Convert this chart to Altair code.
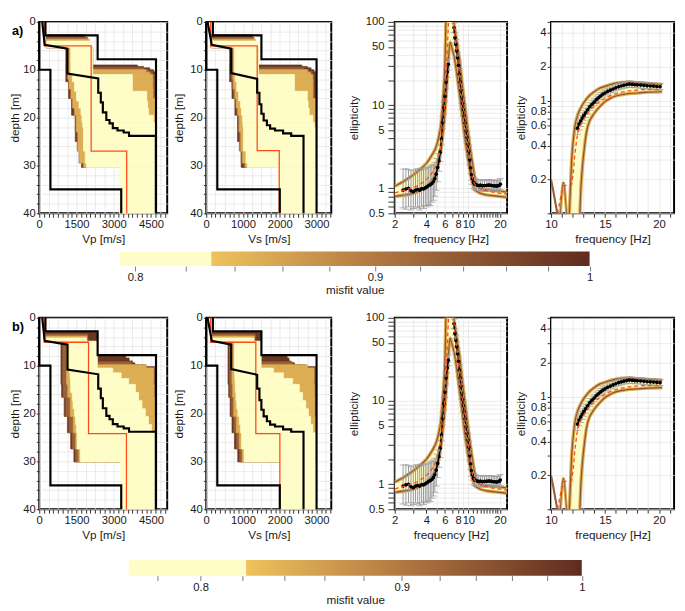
import json
import math
import altair as alt
import pandas as pd

FONT = "Liberation Sans"
RED = "#ff4a1c"

MISFIT_STOPS = [0.76, 0.83, 0.8301, 0.9, 1.0]
MISFIT_COLORS = ["#fefdc8", "#fefdc8", "#efc35c", "#b27842", "#5f2b1f"]
CSCALE = alt.Scale(domain=MISFIT_STOPS, range=MISFIT_COLORS, interpolate="rgb", clamp=True)

DEPTH_DOMAIN = [0, 40]
VP_DOMAIN = [0, 5150]
VS_DOMAIN = [0, 3400]

VP_UPPER = [(250, 0), (250, 2.8), (2350, 2.8), (2350, 7.8), (4700, 7.8), (4700, 40)]
VP_LOWER = [(0, 0), (0, 10), (450, 10), (450, 35), (3300, 35), (3300, 40)]
VS_UPPER = [(180, 0), (180, 2.8), (1500, 2.8), (1500, 7.8), (3000, 7.8), (3000, 40)]
VS_LOWER = [(0, 0), (0, 10), (300, 10), (300, 35), (2000, 35), (2000, 40)]
VP_TRUE = [(120, 0), (220, 4.8), (1135, 5.6), (1135, 10.8), (2374, 11.8), (2374, 14.8), (2478, 14.8),
           (2478, 16.8), (2560, 16.8), (2560, 18.9), (2700, 18.9), (2700, 20.5), (2830, 20.5), (2830, 21.2),
           (2961, 21.2), (2961, 22.2), (3150, 22.2), (3150, 22.7), (3400, 22.7), (3400, 23.1), (3614, 23.1),
           (3614, 23.8), (4696, 23.8), (4696, 40)]
VS_TRUE = [(36, 0), (150, 4.8), (680, 5.6), (680, 10.7), (1385, 11.9), (1385, 14.8), (1446, 14.8),
           (1446, 17.2), (1499, 17.2), (1499, 19.2), (1561, 19.2), (1561, 20.6), (1649, 20.6), (1649, 21.6),
           (1737, 21.6), (1737, 22.3), (1870, 22.3), (1870, 22.7), (2090, 22.7), (2090, 23.3), (2310, 23.3),
           (2310, 23.8), (2645, 23.8), (2645, 40)]
VP_RED_A = [(200, 0), (200, 5.0), (2090, 5.0), (2090, 27.0), (3520, 27.0), (3520, 40)]
VS_RED_A = [(120, 0), (120, 5.0), (1385, 5.0), (1385, 26.9), (1985, 26.9), (1985, 40)]
VP_RED_B = [(200, 0), (200, 5.1), (1983, 5.1), (1983, 24.2), (3510, 24.2), (3510, 40)]
VS_RED_B = [(120, 0), (120, 5.1), (1348, 5.1), (1348, 24.2), (2002, 24.2), (2002, 40)]

# layers covered by the tested models: (misfit, depth_top, depth_bottom, v_min, v_max), worst drawn first
RECT_VP_A = [
    (0.985, 2.7, 5.4, 280, 1850), (0.985, 5.4, 9.0, 1070, 2150), (0.985, 9.0, 9.3, 1070, 3950),
    (0.985, 9.3, 9.6, 1070, 4200), (0.985, 9.6, 10.0, 1070, 4450), (0.985, 10.0, 10.4, 1070, 4600),
    (0.985, 10.4, 12.5, 1070, 4680), (0.985, 12.5, 16, 1180, 4680), (0.985, 16, 19.5, 1300, 4680),
    (0.985, 19.5, 25, 1450, 4680), (0.985, 25, 30.4, 1700, 4680),
    (0.93, 3.2, 5.4, 280, 1950), (0.93, 5.4, 9.6, 1130, 2150), (0.93, 9.6, 10.0, 1130, 4200),
    (0.93, 10.0, 10.4, 1130, 4400), (0.93, 10.4, 11.0, 1130, 4550), (0.93, 11.0, 12.0, 1130, 4650),
    (0.93, 12.0, 14.0, 1180, 4650), (0.93, 14.0, 16.0, 1250, 4655), (0.93, 16.0, 18.0, 1330, 4660),
    (0.93, 18.0, 19.5, 1400, 4660), (0.93, 19.5, 23.0, 1450, 4680), (0.93, 23.0, 27.0, 1530, 4680),
    (0.93, 27.0, 29.5, 1600, 4680), (0.93, 29.5, 30.4, 1760, 4680),
    (0.85, 3.6, 5.4, 290, 2030), (0.85, 5.4, 10.0, 1160, 2150), (0.85, 10.0, 10.5, 1160, 4300),
    (0.85, 10.5, 11.0, 1160, 4450), (0.85, 11.0, 12.0, 1160, 4560), (0.85, 12.0, 14.0, 1200, 4570),
    (0.85, 14.0, 16.0, 1280, 4580), (0.85, 16.0, 18.0, 1350, 4680), (0.85, 18.0, 19.5, 1430, 4680),
    (0.85, 19.5, 23.0, 1500, 4680), (0.85, 23.0, 27.0, 1560, 4680), (0.85, 27.0, 29.5, 1620, 4680),
    (0.85, 29.5, 30.4, 1790, 4680),
    (0.80, 4.0, 5.4, 300, 2110), (0.80, 5.4, 11.0, 1270, 2150), (0.80, 11.0, 12.5, 1330, 3750),
    (0.80, 12.5, 14.5, 1420, 3750), (0.80, 14.5, 16.5, 1500, 4330), (0.80, 16.5, 18.0, 1600, 4360),
    (0.80, 18.0, 19.5, 1680, 4400), (0.80, 19.5, 21.0, 1720, 4600), (0.80, 21.0, 22.0, 1750, 4650),
    (0.80, 22.0, 27.0, 1780, 4680), (0.80, 27.0, 29.5, 1850, 4680), (0.80, 29.5, 30.4, 1900, 4680),
    (0.80, 30.4, 40.0, 3220, 4680),
]
RECT_VS_A = [
    (0.985, 2.7, 5.4, 130, 1250), (0.985, 5.4, 9.0, 636, 1420), (0.985, 9.0, 9.3, 636, 2600),
    (0.985, 9.3, 9.6, 636, 2750), (0.985, 9.6, 10.0, 636, 2850), (0.985, 10.0, 10.4, 636, 2930),
    (0.985, 10.4, 12.5, 636, 2972), (0.985, 12.5, 16, 700, 2972), (0.985, 16, 19.5, 780, 2972),
    (0.985, 19.5, 25, 850, 2972), (0.985, 25, 30.4, 950, 2972),
    (0.93, 3.2, 5.4, 130, 1300), (0.93, 5.4, 9.6, 680, 1420), (0.93, 9.6, 10.0, 680, 2650),
    (0.93, 10.0, 10.4, 680, 2780), (0.93, 10.4, 11.0, 680, 2880), (0.93, 11.0, 12.0, 680, 2930),
    (0.93, 12.0, 14.0, 700, 2930), (0.93, 14.0, 16.0, 740, 2935), (0.93, 16.0, 18.0, 790, 2940),
    (0.93, 18.0, 19.5, 830, 2940), (0.93, 19.5, 23.0, 856, 2972), (0.93, 23.0, 27.0, 900, 2972),
    (0.93, 27.0, 29.5, 950, 2972), (0.93, 29.5, 30.4, 1030, 2972),
    (0.85, 3.6, 5.4, 135, 1340), (0.85, 5.4, 10.0, 724, 1420), (0.85, 10.0, 10.5, 724, 2750),
    (0.85, 10.5, 11.0, 724, 2830), (0.85, 11.0, 12.0, 724, 2890), (0.85, 12.0, 14.0, 740, 2900),
    (0.85, 14.0, 16.0, 780, 2900), (0.85, 16.0, 18.0, 820, 2972), (0.85, 18.0, 19.5, 860, 2972),
    (0.85, 19.5, 23.0, 900, 2972), (0.85, 23.0, 27.0, 940, 2972), (0.85, 27.0, 29.5, 990, 2972),
    (0.85, 29.5, 30.4, 1060, 2972),
    (0.80, 4.0, 5.4, 140, 1420), (0.80, 5.4, 11.0, 770, 1420), (0.80, 11.0, 12.5, 790, 2400),
    (0.80, 12.5, 14.5, 830, 2400), (0.80, 14.5, 16.5, 880, 2750), (0.80, 16.5, 18.0, 930, 2770),
    (0.80, 18.0, 19.5, 960, 2800), (0.80, 19.5, 21.0, 990, 2900), (0.80, 21.0, 22.0, 1000, 2940),
    (0.80, 22.0, 27.0, 1010, 2972), (0.80, 27.0, 29.5, 1080, 2972), (0.80, 29.5, 30.4, 1120, 2972),
    (0.80, 30.4, 40.0, 1960, 2972),
]
RECT_VP_B = [
    (0.985, 2.9, 4.9, 248, 2335), (0.985, 4.9, 7.8, 874, 2335), (0.985, 7.8, 8.4, 874, 3483),
    (0.985, 8.4, 9.0, 874, 3620), (0.985, 9.0, 9.4, 874, 3750), (0.985, 9.4, 9.8, 874, 3850),
    (0.985, 9.8, 10.2, 874, 4300), (0.985, 10.2, 13.9, 874, 4656), (0.985, 13.9, 16.6, 900, 4656),
    (0.985, 16.6, 20.6, 1004, 4656), (0.985, 20.6, 24.0, 1135, 4656), (0.985, 24.0, 27.4, 1265, 4656),
    (0.985, 27.4, 30.1, 1395, 4656),
    (0.93, 3.4, 4.9, 248, 1950), (0.93, 4.9, 9.2, 940, 2335), (0.93, 9.2, 9.8, 940, 3700),
    (0.93, 9.8, 10.3, 940, 4000), (0.93, 10.3, 13.9, 940, 4656), (0.93, 13.9, 16.6, 960, 4656),
    (0.93, 16.6, 20.6, 1070, 4656), (0.93, 20.6, 24.0, 1200, 4656), (0.93, 24.0, 27.4, 1330, 4656),
    (0.93, 27.4, 30.1, 1460, 4656),
    (0.85, 3.8, 4.9, 250, 1920), (0.85, 4.9, 9.8, 1100, 2335), (0.85, 9.8, 10.5, 1100, 4300),
    (0.85, 10.5, 13.9, 1100, 4600), (0.85, 13.9, 16.6, 1150, 4620), (0.85, 16.6, 20.6, 1250, 4640),
    (0.85, 20.6, 24.0, 1370, 4656), (0.85, 24.0, 27.4, 1470, 4656), (0.85, 27.4, 30.1, 1590, 4656),
    (0.80, 4.2, 4.9, 260, 1900), (0.80, 4.9, 10.5, 1200, 2335), (0.80, 10.5, 11.5, 1220, 2961),
    (0.80, 11.5, 12.7, 1240, 3300), (0.80, 12.7, 13.9, 1255, 3600), (0.80, 13.9, 15.6, 1265, 3873),
    (0.80, 15.6, 17.3, 1330, 4000), (0.80, 17.3, 19.0, 1360, 4134), (0.80, 19.0, 20.6, 1420, 4270),
    (0.80, 20.6, 22.3, 1461, 4395), (0.80, 22.3, 24.0, 1500, 4520), (0.80, 24.0, 27.4, 1526, 4656),
    (0.80, 27.4, 30.1, 1656, 4656), (0.80, 30.1, 40.0, 3270, 4656),
]
RECT_VS_B = [
    (0.985, 2.9, 4.9, 160, 1491), (0.985, 4.9, 7.8, 592, 1491), (0.985, 7.8, 8.4, 592, 2200),
    (0.985, 8.4, 9.0, 592, 2250), (0.985, 9.0, 9.4, 592, 2300), (0.985, 9.4, 9.8, 592, 2400),
    (0.985, 9.8, 10.2, 592, 2700), (0.985, 10.2, 13.9, 592, 2972), (0.985, 13.9, 16.6, 610, 2972),
    (0.985, 16.6, 20.6, 650, 2972), (0.985, 20.6, 24.0, 700, 2972), (0.985, 24.0, 27.4, 768, 2972),
    (0.985, 27.4, 30.1, 856, 2972),
    (0.93, 3.4, 4.9, 160, 1330), (0.93, 4.9, 9.2, 630, 1491), (0.93, 9.2, 9.8, 630, 2350),
    (0.93, 9.8, 10.3, 630, 2550), (0.93, 10.3, 13.9, 630, 2972), (0.93, 13.9, 16.6, 640, 2972),
    (0.93, 16.6, 20.6, 690, 2972), (0.93, 20.6, 24.0, 750, 2972), (0.93, 24.0, 27.4, 820, 2972),
    (0.93, 27.4, 30.1, 910, 2972),
    (0.85, 3.8, 4.9, 165, 1310), (0.85, 4.9, 9.8, 700, 1491), (0.85, 9.8, 10.5, 700, 2750),
    (0.85, 10.5, 13.9, 700, 2930), (0.85, 13.9, 16.6, 720, 2940), (0.85, 16.6, 20.6, 750, 2950),
    (0.85, 20.6, 24.0, 820, 2972), (0.85, 24.0, 27.4, 900, 2972), (0.85, 27.4, 30.1, 980, 2972),
    (0.80, 4.2, 4.9, 170, 1290), (0.80, 4.9, 10.5, 768, 1491), (0.80, 10.5, 11.5, 770, 1826),
    (0.80, 11.5, 12.7, 775, 2100), (0.80, 12.7, 13.9, 785, 2350), (0.80, 13.9, 15.6, 790, 2531),
    (0.80, 15.6, 17.3, 810, 2620), (0.80, 17.3, 19.0, 830, 2708), (0.80, 19.0, 20.6, 860, 2780),
    (0.80, 20.6, 22.3, 900, 2840), (0.80, 22.3, 24.0, 930, 2900), (0.80, 24.0, 27.4, 960, 2972),
    (0.80, 27.4, 30.1, 1030, 2972), (0.80, 30.1, 40.0, 2002, 2972),
]

ELL_F = [2.0, 2.5, 3.0, 3.5, 4.0, 4.5, 5.0, 5.25, 5.5, 5.75, 6.0, 6.2, 6.4, 6.7, 7.0, 7.2, 7.4, 7.7, 8.0, 8.3,
         8.6, 9.0, 9.5, 10.0, 10.5, 11.0, 11.5, 12.0, 13.0, 15.0, 18.0, 23.0]
ELL_HI = [1.06, 1.24, 1.45, 1.70, 2.0, 2.5, 3.3, 4.2, 6.0, 12, 32, 200, 400, 400, 400, 108, 86, 62, 45, 33,
          21.5, 13.2, 7.6, 4.5, 2.85, 1.91, 1.36, 1.13, 1.0, 0.96, 0.94, 0.9]
ELL_LO = [0.80, 0.83, 0.87, 0.95, 1.06, 1.24, 1.60, 2.0, 2.9, 4.8, 8.2, 15, 28, 57, 48, 42, 36, 26, 18, 12.5,
          8.8, 5.3, 3.2, 2.1, 1.45, 1.12, 0.96, 0.92, 0.87, 0.83, 0.81, 0.78]
OBS_F = [2.40, 2.55, 2.70, 2.85, 3.00, 3.15, 3.30, 3.45, 3.60, 3.75, 3.90, 4.05, 4.20, 4.35, 4.50, 4.65, 4.80,
         4.95, 5.10, 5.25, 5.40, 5.55, 5.70, 5.85, 6.00, 6.15, 6.30, 6.45,
         7.30, 7.45, 7.60, 7.75, 7.90, 8.05, 8.20, 8.35, 8.50, 8.65, 8.80, 8.95, 9.10,
         9.30, 9.50, 9.70, 9.90, 10.1, 10.3, 10.5, 10.7, 10.9,
         11.2, 11.5, 11.9, 12.4, 13.0, 13.6, 14.2, 14.8, 15.4, 16.0, 16.6, 17.2, 17.8, 18.4, 19.0, 19.6, 20.1]
OBS_E = [0.95, 0.98, 1.00, 0.93, 0.91, 0.95, 0.97, 0.95, 0.99, 0.98, 1.01, 1.04, 1.08, 1.10, 1.14, 1.20, 1.30,
         1.48, 1.78, 2.15, 2.70, 3.90, 6.2, 9.3, 12.8, 19.0, 25.0, 31.0,
         85, 65, 54, 45, 37, 30, 23.5, 19, 15, 12.5, 10.5, 8.8, 7.4,
         6.1, 4.9, 4.1, 3.4, 2.8, 2.2, 1.75, 1.45, 1.30,
         1.17, 1.12, 1.10, 1.08, 1.09, 1.07, 1.08, 1.08, 1.09, 1.09, 1.08, 1.07, 1.07, 1.06, 1.07, 1.08, 1.12]
OBS_LO = [0.58, 0.56, 0.60, 0.55, 0.57, 0.60, 0.58, 0.55, 0.60, 0.57, 0.62, 0.60, 0.64, 0.62, 0.68, 0.72, 0.80,
          0.95, 1.20, 1.60, 2.10, 3.30, 5.20, 7.90, 11.0, 16.0, 21.5, 26.5,
          74, 56, 46, 38.5, 31.5, 25.5, 20, 16, 12.8, 10.6, 8.9, 7.5, 6.3,
          5.2, 4.2, 3.5, 2.9, 2.4, 1.9, 1.5, 1.25, 1.12,
          1.0, 0.96, 0.94, 0.93, 0.94, 0.92, 0.93, 0.93, 0.94, 0.94, 0.93, 0.92, 0.92, 0.91, 0.92, 0.93, 0.96]
OBS_HI = [1.70, 1.72, 1.68, 1.62, 1.65, 1.70, 1.72, 1.66, 1.75, 1.70, 1.72, 1.78, 1.80, 1.85, 1.90, 1.95, 2.05,
          2.30, 2.60, 2.90, 3.40, 4.80, 7.40, 10.9, 14.8, 22.0, 29.0, 36.0,
          97, 75, 62, 52, 43, 35, 27.5, 22.5, 17.5, 14.6, 12.3, 10.3, 8.7,
          7.1, 5.7, 4.8, 4.0, 3.3, 2.6, 2.05, 1.70, 1.52,
          1.37, 1.31, 1.28, 1.26, 1.27, 1.25, 1.26, 1.26, 1.27, 1.27, 1.26, 1.25, 1.25, 1.24, 1.25, 1.26, 1.31]
OBS_SEG = [1] * 28 + [2] * 39
RED3_F = [2.0, 2.5, 3.0, 3.5, 4.0, 4.5, 5.0, 5.5, 5.8, 6.0, 6.1, 6.3, 6.5, 6.7, 6.9, 7.1, 7.3, 7.5, 7.8, 8.2,
          8.6, 9.0, 9.5, 10.0, 10.5, 11.0, 11.5, 12.0, 13.0, 15.0, 17.0, 20.0, 23.0]
RED3_E = [0.88, 0.95, 1.02, 1.12, 1.28, 1.52, 2.0, 3.4, 6.5, 12, 18, 45, 110, 250, 300, 150, 85, 62, 42, 23,
          13.5, 8.5, 4.9, 3.1, 1.8, 1.3, 1.12, 1.05, 0.98, 0.93, 0.9, 0.87, 0.85]
B4_F = [11.7, 11.9, 12.2, 12.5, 12.8, 13.1, 13.4, 14.0, 14.5, 15.0, 15.5, 16.0, 17.0, 18.0, 19.0, 20.3]
B4_HI = [0.1, 0.28, 0.58, 0.76, 0.88, 0.98, 1.07, 1.2, 1.29, 1.34, 1.39, 1.43, 1.46, 1.44, 1.42, 1.395]
B4_LO = [0.05, 0.05, 0.05, 0.05, 0.19, 0.39, 0.59, 0.77, 0.88, 0.98, 1.05, 1.1, 1.15, 1.17, 1.19, 1.2]
P4_F = [12.45, 12.6, 12.75, 12.9, 13.05, 13.2, 13.4, 13.6, 13.8, 14.0, 14.2, 14.4, 14.6, 14.8, 15.0, 15.25,
        15.5, 15.75, 16.0, 16.25, 16.5, 16.75, 17.0, 17.25, 17.5, 17.75, 18.0, 18.3, 18.6, 18.9, 19.2, 19.5,
        19.8, 20.1]
P4_E = [0.57, 0.62, 0.66, 0.70, 0.74, 0.78, 0.83, 0.885, 0.93, 0.97, 1.02, 1.06, 1.10, 1.14, 1.17, 1.21, 1.24,
        1.27, 1.30, 1.33, 1.35, 1.37, 1.385, 1.40, 1.395, 1.385, 1.38, 1.375, 1.365, 1.355, 1.35, 1.345, 1.335,
        1.33]
P4_LO = [0.50, 0.55, 0.59, 0.63, 0.67, 0.71, 0.76, 0.82, 0.86, 0.90, 0.95, 0.99, 1.03, 1.07, 1.10, 1.14, 1.17,
         1.19, 1.22, 1.25, 1.27, 1.29, 1.30, 1.31, 1.31, 1.30, 1.30, 1.29, 1.28, 1.27, 1.27, 1.26, 1.25, 1.25]
P4_HI = [0.65, 0.70, 0.74, 0.78, 0.82, 0.86, 0.91, 0.96, 1.01, 1.05, 1.10, 1.14, 1.18, 1.22, 1.25, 1.29, 1.32,
         1.36, 1.39, 1.42, 1.44, 1.46, 1.48, 1.50, 1.49, 1.48, 1.47, 1.47, 1.46, 1.45, 1.44, 1.44, 1.43, 1.42]
RED4_F = [10.6, 10.9, 11.15, 11.5, 11.9, 12.05, 12.2, 12.4, 12.6, 12.9, 13.3, 13.8, 14.5, 15.3, 16.2, 17.2,
          18.3, 19.3, 20.3]
RED4_E = [0.10, 0.14, 0.175, 0.178, 0.18, 0.22, 0.33, 0.47, 0.57, 0.65, 0.75, 0.86, 0.98, 1.09, 1.17, 1.22,
          1.25, 1.26, 1.26]
SPK1_F = [10.0, 10.2, 10.4, 10.6]
SPK1_E = [0.20, 0.16, 0.125, 0.098]
SPK2_F = [10.85, 11.05, 11.15, 11.25, 11.45]
SPK2_E = [0.098, 0.17, 0.19, 0.17, 0.098]

CB_A = dict(dmin=0.794, split=0.8305, ticks=[0.8, 0.82, 0.84, 0.86, 0.88, 0.9, 0.92, 0.94, 0.96, 0.98, 1.0])
CB_B = dict(dmin=0.767, split=0.8216,
            ticks=[0.78, 0.8, 0.82, 0.84, 0.86, 0.88, 0.9, 0.92, 0.94, 0.96, 0.98, 1.0])

W = [131, 128, 115, 126]
H = 196
LEFT = [30, 36, 61, 41]
TOTAL_W = W[0] + 38 + W[1] + 63 + W[2] + 43 + W[3]


def any_of(vals):
    return "(" + " || ".join("datum.value == %s" % json.dumps(v) for v in vals) + ")"


def make_axis(values, labels, title, grid_values=None, tick=4, fmt="~g", **kw):
    props = dict(values=values, format=fmt, labelExpr="%s ? datum.label : ''" % any_of(labels),
                 tickSize=tick, title=title, domain=False,
                 labelOverlap=False, labelFlush=False, grid=True, gridColor="#e6e6e6", gridWidth=0.8,
                 tickColor="#333333", tickWidth=1, labelColor="#1a1a1a", labelFontSize=11.5,
                 labelFont=FONT, titleFont=FONT, titleFontSize=12, titleFontWeight="normal",
                 titleColor="#1a1a1a", labelPadding=2, titlePadding=3)
    if grid_values is not None:
        props["gridOpacity"] = {"condition": {"test": any_of(grid_values), "value": 1}, "value": 0}
    props.update(kw)
    return alt.Axis(**props)


def spacer(left, top, right, bottom):
    # invisible rule that fixes the bounding box used by the concat layout
    return alt.Chart(pd.DataFrame({"k": [0]})).mark_rule(opacity=0, strokeWidth=1).encode(
        x=alt.value(-left), x2=alt.value(right), y=alt.value(-top), y2=alt.value(bottom))


DEPTH_TICKS = list(range(0, 41, 2))
VP_TICKS = [i * 187.5 for i in range(28)]
VS_TICKS = [i * 125 for i in range(28)]


def profile_panel(rects, vdomain, xaxis, yaxis, red_pts, up_pts, lo_pts, true_pts, width, box, tag=None):
    xs = alt.Scale(domain=vdomain, nice=False, zero=False)
    ys = alt.Scale(domain=DEPTH_DOMAIN, reverse=True, nice=False, zero=False)
    df = pd.DataFrame(rects, columns=["m", "d0", "d1", "lo", "hi"])
    layers = [alt.Chart(df).mark_rect(strokeWidth=0.7).encode(
        x=alt.X("lo:Q", scale=xs, axis=xaxis), x2=alt.X2("hi"),
        y=alt.Y("d0:Q", scale=ys, axis=yaxis), y2=alt.Y2("d1"),
        color=alt.Color("m:Q", scale=CSCALE, legend=None),
        stroke=alt.Stroke("m:Q", scale=CSCALE, legend=None))]

    def line(pts, color, w):
        d = pd.DataFrame(pts, columns=["v", "d"])
        d["i"] = range(len(d))
        return alt.Chart(d).mark_line(color=color, strokeWidth=w).encode(
            x=alt.X("v:Q", scale=xs, axis=xaxis), y=alt.Y("d:Q", scale=ys, axis=yaxis),
            order=alt.Order("i:Q"))

    layers += [line(red_pts, RED, 1.3), line(up_pts, "black", 2.2), line(lo_pts, "black", 2.2),
               line(true_pts, "black", 2.2)]
    if tag:
        layers.append(alt.Chart(pd.DataFrame({"t": [tag]})).mark_text(
            align="left", baseline="middle", fontSize=13, fontWeight="bold", font=FONT, color="black").encode(
            x=alt.value(-28), y=alt.value(9), text="t:N"))
    layers.append(spacer(*box))
    return alt.layer(*layers).properties(width=width, height=H)


def ell_panel(xs, ys, xaxis, yaxis, bf, blo, bhi, of, oe, olo, ohi, oseg, rf, re_, width, box,
              red_interp="monotone", extras=()):
    X = lambda: alt.X("f:Q", scale=xs, axis=xaxis)
    Y = lambda fld: alt.Y(fld + ":Q", scale=ys, axis=yaxis)
    layers = []
    band = pd.DataFrame({"f": bf, "lo": blo, "hi": bhi, "m": 0.80})
    layers.append(alt.Chart(band).mark_area(clip=True, interpolate="monotone").encode(
        x=X(), y=Y("lo"), y2=alt.Y2("hi"), color=alt.Color("m:Q", scale=CSCALE, legend=None)))
    for m, wdt in ((0.85, 3.5), (0.95, 1.2)):
        for vals in (blo, bhi):
            df = pd.DataFrame({"f": bf, "e": vals, "m": m})
            layers.append(alt.Chart(df).mark_line(clip=True, strokeWidth=wdt, interpolate="monotone").encode(
                x=X(), y=Y("e"), color=alt.Color("m:Q", scale=CSCALE, legend=None)))
    for (ef, ee, m, wdt) in extras:
        df = pd.DataFrame({"f": ef, "e": ee, "m": m})
        layers.append(alt.Chart(df).mark_line(clip=True, strokeWidth=wdt).encode(
            x=X(), y=Y("e"), color=alt.Color("m:Q", scale=CSCALE, legend=None)))
    obs = pd.DataFrame({"f": of, "e": oe, "lo": olo, "hi": ohi, "seg": oseg})
    layers.append(alt.Chart(obs).mark_rule(clip=True, color="#9a9a9a", strokeWidth=1).encode(
        x=X(), y=Y("lo"), y2=alt.Y2("hi")))
    for fld in ("lo", "hi"):
        layers.append(alt.Chart(obs).mark_tick(clip=True, orient="horizontal", size=7, thickness=1,
                                               color="#9a9a9a").encode(x=X(), y=Y(fld)))
    layers.append(alt.Chart(obs).mark_line(clip=True, color="black", strokeWidth=1.5).encode(
        x=X(), y=Y("e"), detail="seg:N"))
    layers.append(alt.Chart(obs).mark_circle(clip=True, color="black", size=14, opacity=1).encode(
        x=X(), y=Y("e")))
    red = pd.DataFrame({"f": rf, "e": re_})
    layers.append(alt.Chart(red).mark_line(clip=True, color=RED, strokeWidth=1.3, strokeDash=[4, 3],
                                           interpolate=red_interp).encode(x=X(), y=Y("e")))
    layers.append(spacer(*box))
    return alt.layer(*layers).properties(width=width, height=H)


def panel3(box):
    xs = alt.Scale(type="log", domain=[2, 23.3], nice=False)
    ys = alt.Scale(type="log", domain=[0.5, 100], nice=False)
    xaxis = make_axis([2, 3, 4, 5, 6, 7, 8, 9, 10, 11, 12, 13, 14, 15, 16, 17, 18, 19, 20],
                      [2, 4, 6, 8, 10, 20], "frequency [Hz]", grid_values=[2, 3, 4, 5, 6, 7, 8, 9, 10, 20])
    yaxis = make_axis([0.5, 0.6, 0.7, 0.8, 0.9, 1, 2, 3, 4, 5, 6, 7, 8, 9, 10, 20, 30, 40, 50, 60, 70, 80, 90, 100],
                      [0.5, 1, 5, 10, 50, 100], "ellipticity", tick=7, labelPadding=4,
                      titleX=-35, titleY=H / 2)
    return ell_panel(xs, ys, xaxis, yaxis, ELL_F, ELL_LO, ELL_HI, OBS_F, OBS_E, OBS_LO, OBS_HI, OBS_SEG,
                     RED3_F, RED3_E, W[2], box)


def panel4(box):
    xs = alt.Scale(type="linear", domain=[10, 21.4], nice=False, zero=False)
    ys = alt.Scale(type="log", domain=[0.1, 5], nice=False)
    xaxis = make_axis(list(range(10, 22)), [10, 15, 20], "frequency [Hz]", fmt="d")
    yaxis = make_axis([0.1, 0.2, 0.3, 0.4, 0.5, 0.6, 0.7, 0.8, 0.9, 1, 2, 3, 4, 5],
                      [0.2, 0.4, 0.6, 0.8, 1, 2, 4], "ellipticity", tick=4, labelPadding=1,
                      titleX=-24, titleY=H / 2)
    extras = [(SPK1_F, SPK1_E, 0.93, 2.2), (SPK2_F, SPK2_E, 0.85, 3.0), (SPK2_F, SPK2_E, 0.93, 1.0)]
    return ell_panel(xs, ys, xaxis, yaxis, B4_F, B4_LO, B4_HI, P4_F, P4_E, P4_LO, P4_HI, [1] * len(P4_F),
                     RED4_F, RED4_E, W[3], box, red_interp="linear", extras=extras)


def colorbar(cb, rng, height, bottom):
    xs = alt.Scale(type="log", domain=[cb["dmin"], 1.0], range=rng, nice=False)
    ax = make_axis(cb["ticks"], [0.8, 0.9, 1], "misfit value", tick=5, grid=False,
                   tickColor="#777777", labelPadding=1, titlePadding=2)
    yellow = pd.DataFrame({"lo": [cb["dmin"]], "hi": [cb["split"]], "m": [0.80]})
    grad = pd.DataFrame({"lo": [cb["split"]], "hi": [1.0]})
    mid = math.log(0.9 / cb["split"]) / math.log(1.0 / cb["split"])
    g = alt.LinearGradient(gradient="linear", x1=0, x2=1, y1=0, y2=0,
                           stops=[alt.GradientStop(offset=0, color=MISFIT_COLORS[2]),
                                  alt.GradientStop(offset=mid, color=MISFIT_COLORS[3]),
                                  alt.GradientStop(offset=1, color=MISFIT_COLORS[4])])
    l1 = alt.Chart(yellow).mark_rect().encode(
        x=alt.X("lo:Q", scale=xs, axis=ax), x2=alt.X2("hi"), y=alt.value(0), y2=alt.value(height),
        color=alt.Color("m:Q", scale=CSCALE, legend=None))
    l2 = alt.Chart(grad).mark_rect(fill=g).encode(
        x=alt.X("lo:Q", scale=xs, axis=ax), x2=alt.X2("hi"), y=alt.value(0), y2=alt.value(height))
    sp = spacer(LEFT[0], 0, TOTAL_W, height + bottom)
    return alt.layer(l1, l2, sp).properties(width=TOTAL_W, height=height,
                                            view=alt.ViewBackground(stroke="transparent"))


def row(rects_p, rects_s, red_p, red_s, tag, top, bottom):
    vp_ax = make_axis(VP_TICKS, [0, 1500, 3000, 4500], "Vp [m/s]", grid_values=[i * 375 for i in range(14)],
                      fmt="d")
    vs_ax = make_axis(VS_TICKS, [0, 1000, 2000, 3000], "Vs [m/s]", grid_values=[i * 250 for i in range(14)],
                      fmt="d")
    d1 = make_axis(DEPTH_TICKS, [0, 10, 20, 30, 40], "depth [m]", tick=3, labelPadding=1, fmt="d",
                   titleX=-18, titleY=H / 2)
    d2 = make_axis(DEPTH_TICKS, [0, 10, 20, 30, 40], "depth [m]", tick=3, labelPadding=1, fmt="d",
                   titleX=-21, titleY=H / 2)
    boxes = [(LEFT[i], top, W[i] + 2, H + bottom) for i in range(4)]
    p1 = profile_panel(rects_p, VP_DOMAIN, vp_ax, d1, red_p, VP_UPPER, VP_LOWER, VP_TRUE, W[0], boxes[0], tag)
    p2 = profile_panel(rects_s, VS_DOMAIN, vs_ax, d2, red_s, VS_UPPER, VS_LOWER, VS_TRUE, W[1], boxes[1])
    return alt.hconcat(p1, p2, panel3(boxes[2]), panel4(boxes[3]), spacing=0)


row_a = row(RECT_VP_A, RECT_VS_A, VP_RED_A, VS_RED_A, "a)", 6, 36)
row_b = row(RECT_VP_B, RECT_VS_B, VP_RED_B, VS_RED_B, "b)", 6, 49)
cb_a = colorbar(CB_A, [82.5, 563.5], 15, 44)
cb_b = colorbar(CB_B, [91.5, 555.5], 16, 30)

chart = alt.vconcat(row_a, cb_a, row_b, cb_b, spacing=1).properties(
    padding={"left": 0, "top": 0, "right": 0, "bottom": 0}
).configure(font=FONT).configure_view(stroke="black", strokeWidth=2)

chart.save("out.html", embed_options={"renderer": "svg", "actions": False})
